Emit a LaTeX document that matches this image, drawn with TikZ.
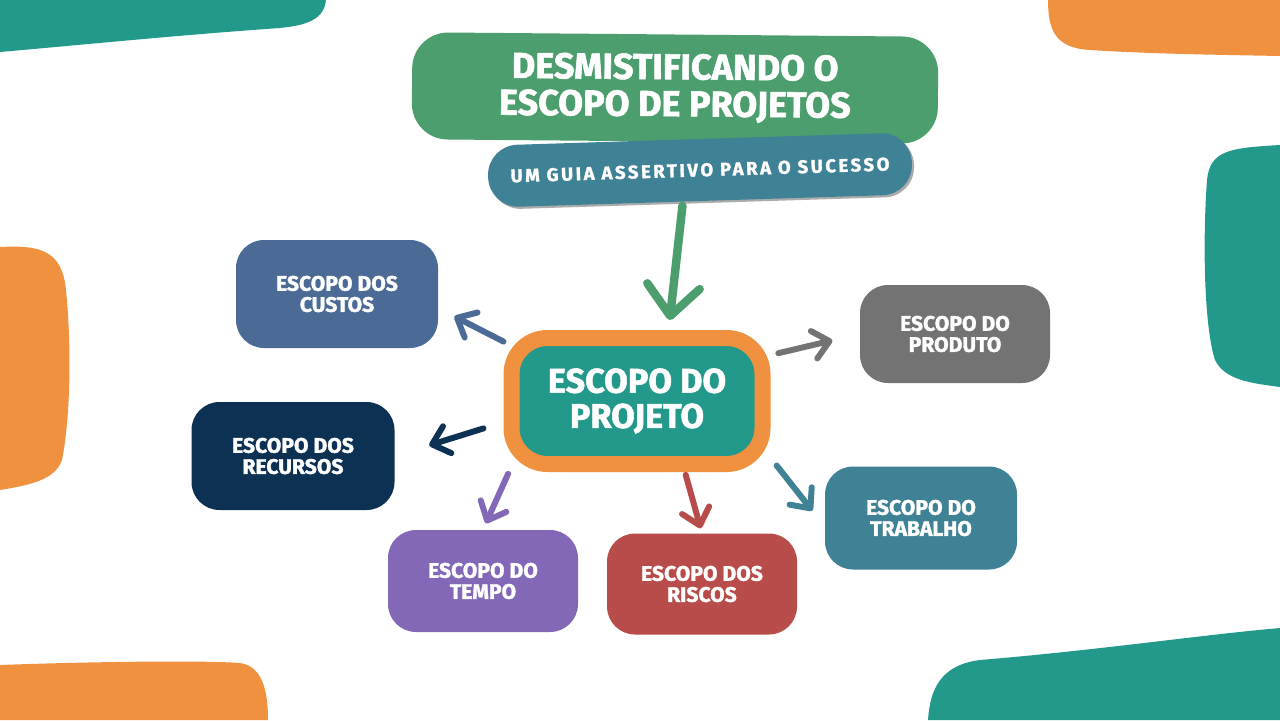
\documentclass[tikz,border=0pt]{standalone}
\usepackage{fontspec}
\setmainfont{Fira Sans}[BoldFeatures={FakeBold=1.6}]
\usepackage{xcolor}
\usetikzlibrary{arrows.meta,shadows}

\definecolor{bgteal}{HTML}{23998C}
\definecolor{bgorange}{HTML}{F0913F}
\definecolor{titlegreen}{HTML}{4C9E6E}
\definecolor{subblue}{HTML}{3F8195}
\definecolor{custblue}{HTML}{4B6A96}
\definecolor{recnavy}{HTML}{0D3152}
\definecolor{prodgray}{HTML}{737373}
\definecolor{trabblue}{HTML}{3F8195}
\definecolor{tempurple}{HTML}{8268B6}
\definecolor{riscred}{HTML}{B84C4B}

\newdimen\px \px=0.02cm

\begin{document}
\begin{tikzpicture}[x=0.02cm,y=-0.02cm,
    box/.style={rounded corners=28\px, inner sep=0pt, text=white, align=center,
                font=\bfseries\fontsize{12}{12}\selectfont},
    arr/.style={line width=3.4pt, line cap=round, line join=round,
                -{Straight Barb[round,length=9pt,width=16pt]}}]
    % Canvas (fixes the bounding box)
    \fill[white] (0,0) rectangle (1280,720);
    % Corner blobs
    \fill[bgteal] (0,0) -- (326,0) .. controls (324,18) and (310,25) .. (280,28)
      .. controls (180,35) and (80,45) .. (0,52) -- cycle;
    \fill[bgorange] (1048,0) .. controls (1048,30) and (1055,48) .. (1090,50)
      .. controls (1150,54) and (1230,55) .. (1280,56) -- (1280,0) -- cycle;
    \fill[bgteal] (1280,145) .. controls (1230,148) and (1210,150) .. (1207,180)
      .. controls (1202,250) and (1205,330) .. (1215,360)
      .. controls (1225,380) and (1250,383) .. (1280,387) -- cycle;
    \fill[bgorange] (0,247) .. controls (40,245) and (62,250) .. (66,290)
      .. controls (72,350) and (70,420) .. (62,460)
      .. controls (55,480) and (30,485) .. (0,490) -- cycle;
    \fill[bgorange] (0,665) .. controls (80,662) and (200,660) .. (240,663)
      .. controls (262,666) and (268,690) .. (268,720) -- (0,720) -- cycle;
    \fill[bgteal] (928,720) .. controls (930,690) and (940,665) .. (980,660)
      .. controls (1100,650) and (1200,635) .. (1280,628) -- (1280,720) -- cycle;
    % Title and subtitle
    \node[box, fill=titlegreen, minimum width=526\px, minimum height=107\px,
          rounded corners=36\px, rotate=-0.5,
          font=\bfseries\fontsize{20.5}{21}\selectfont] (title) at (675,88)
      {DESMISTIFICANDO O\\ESCOPO DE PROJETOS};
    \node[box, fill=subblue, minimum width=424\px, minimum height=62\px,
          rounded corners=30\px, rotate=1.8,
          drop shadow={shadow xshift=1.2pt, shadow yshift=-1.2pt, fill=black!65},
          font=\bfseries\fontsize{10.5}{12}\selectfont\addfontfeatures{LetterSpace=14}]
          (sub) at (700,170) {UM GUIA ASSERTIVO PARA O SUCESSO};
    % Central node
    \node[box, fill=bgteal, draw=bgorange, line width=16\px, minimum width=251\px,
          minimum height=126\px, rounded corners=36\px,
          font=\bfseries\fontsize{19.5}{20}\selectfont] (ctr) at (637,401)
      {ESCOPO DO\\PROJETO};
    % Satellite nodes
    \foreach \name/\pos/\w/\h/\col/\txt in {
        cust/{(337,294)}/202/108/custblue/{ESCOPO DOS\\CUSTOS},
        rec/{(293,456)}/203/108/recnavy/{ESCOPO DOS\\RECURSOS},
        prod/{(955,334)}/190/98/prodgray/{ESCOPO DO\\PRODUTO},
        trab/{(921,518)}/192/103/trabblue/{ESCOPO DO\\TRABALHO},
        temp/{(483,581)}/190/102/tempurple/{ESCOPO DO\\TEMPO},
        risc/{(702,584)}/190/101/riscred/{ESCOPO DOS\\RISCOS}} {
      \node[box, fill=\col, minimum width=\w\px, minimum height=\h\px] (\name) at \pos {\txt};
    }
    % Arrows
    \draw[arr, titlegreen, line width=4.8pt,
          -{Straight Barb[round,length=17pt,width=30pt]},
          shorten <=4\px, shorten >=10\px] (sub.-120) -- (ctr.66);
    \foreach \a/\to/\b/\col/\sa/\sb in {
        156/cust/-8/custblue/0/18,
        189/rec/0/recnavy/21/36,
        19/prod/180/prodgray/8/28,
        -23/trab/185/trabblue/10/20,
        209/temp/90/tempurple/2/7,
        -56/risc/90/riscred/3/5} {
      \draw[arr, \col, shorten <=\sa\px, shorten >=\sb\px] (ctr.\a) -- (\to.\b);
    }
\end{tikzpicture}
\end{document}
